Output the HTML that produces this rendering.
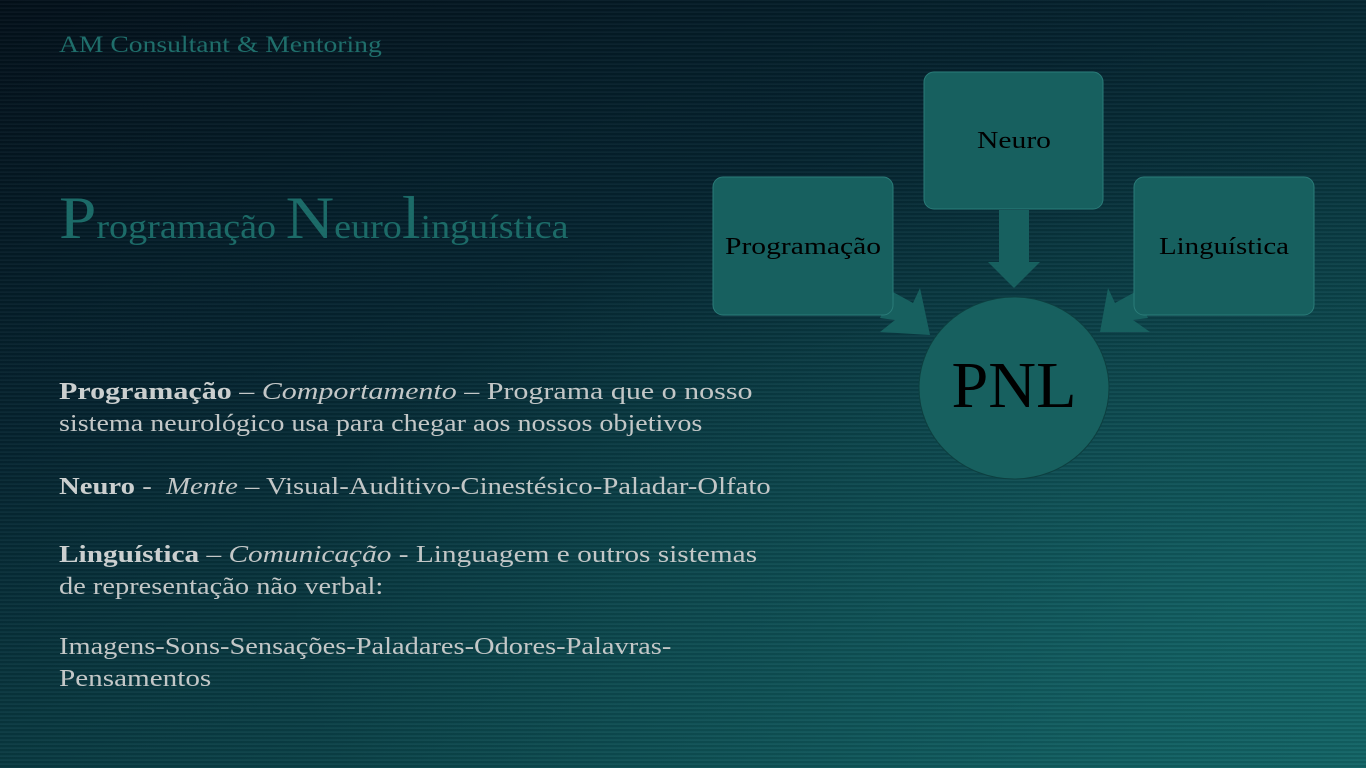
<!DOCTYPE html>
<html><head><meta charset="utf-8"><style>
html,body{margin:0;padding:0}
body{width:1366px;height:768px;overflow:hidden;position:relative;font-family:"Liberation Serif",serif;
background:linear-gradient(160deg,#03101a 0%,#052430 35%,#0a3e45 65%,#0f5a5c 100%);}
.stripes{position:absolute;inset:0;background:repeating-linear-gradient(180deg,rgba(255,255,255,0.03) 0 1px,rgba(0,0,0,0.08) 1px 3px,rgba(255,255,255,0.02) 3px 4px);}
.glow{position:absolute;inset:0;background:radial-gradient(ellipse at 95% 80%,rgba(30,140,140,0.3),transparent 55%);}
.t{position:absolute;white-space:nowrap;transform-origin:0 0}
.body{color:#c3c7c7;font-size:24px;line-height:32px}
.body b{color:#cbcfcf}
</style></head><body>
<div class="glow"></div><div class="stripes"></div>
<div class="t" style="left:59px;top:32px;font-size:23px;color:#1f6e6b;transform:scaleX(1.2)">AM Consultant &amp; Mentoring</div>
<div class="t" style="left:59px;top:183px;color:#1c6b68;font-size:34px;line-height:70px;transform:scaleX(1.12)"><span style="font-size:60px">P</span>rogramação <span style="font-size:60px">N</span>euro<span style="font-size:60px">l</span>inguística</div>
<div class="t body" style="left:59px;top:376px;transform:scaleX(1.25)"><b>Programação</b> – <i>Comportamento</i> – Programa que o nosso</div>
<div class="t body" style="left:59px;top:408px;transform:scaleX(1.17)">sistema neurológico usa para chegar aos nossos objetivos</div>
<div class="t body" style="left:59px;top:471px;transform:scaleX(1.196)"><b>Neuro</b> -&nbsp; <i>Mente</i> – Visual-Auditivo-Cinestésico-Paladar-Olfato</div>
<div class="t body" style="left:59px;top:539px;transform:scaleX(1.222)"><b>Linguística</b> – <i>Comunicação</i> - Linguagem e outros sistemas</div>
<div class="t body" style="left:59px;top:571px;transform:scaleX(1.184)">de representação não verbal:</div>
<div class="t body" style="left:59px;top:631px;transform:scaleX(1.184)">Imagens-Sons-Sensações-Paladares-Odores-Palavras-</div>
<div class="t body" style="left:59px;top:663px;transform:scaleX(1.215)">Pensamentos</div>
<svg width="1366" height="768" style="position:absolute;left:0;top:0">
<g fill="#17605f">
<polygon points="999,210 1029,210 1029,262 1040,262 1014,288 988,262 999,262"/>
<polygon points="880,318 893,292 913,303 920,288 930,335 880,332 895,320"/>
<polygon points="1148,318 1135,292 1115,303 1108,288 1100,332 1150,332 1133,320"/>
<rect x="713" y="177" width="180" height="138" rx="10" stroke="#2a7b78" stroke-width="1"/>
<rect x="924" y="72" width="179" height="137" rx="10" stroke="#2a7b78" stroke-width="1"/>
<rect x="1134" y="177" width="180" height="138" rx="10" stroke="#2a7b78" stroke-width="1"/>
<ellipse cx="1014" cy="388" rx="95" ry="91" stroke="#0d3f40" stroke-width="1"/>
</g>
<g font-family="Liberation Serif,serif" fill="#000" text-anchor="middle">
<text x="803" y="254" font-size="24" textLength="156" lengthAdjust="spacingAndGlyphs">Programação</text>
<text x="1014" y="148" font-size="24" textLength="74" lengthAdjust="spacingAndGlyphs">Neuro</text>
<text x="1224" y="254" font-size="24" textLength="130" lengthAdjust="spacingAndGlyphs">Linguística</text>
<text x="1014" y="407" font-size="66" textLength="125" lengthAdjust="spacingAndGlyphs">PNL</text>
</g>
</svg>
</body></html>
